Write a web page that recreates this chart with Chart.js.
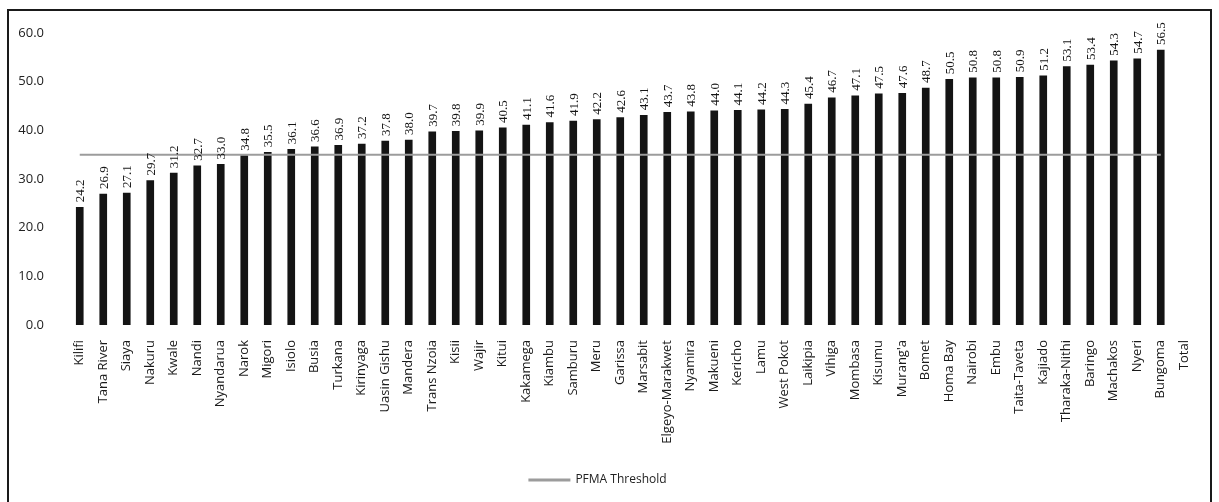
<!DOCTYPE html>
<html>
<head>
<meta charset="utf-8">
<script src="https://cdn.jsdelivr.net/npm/chart.js@4.4.1/dist/chart.umd.min.js"></script>
<style>
    html, body { margin: 0; padding: 0; background: #fff; }
    #moldura { position: absolute; left: 7px; top: 9px; width: 1205px; height: 520px; border: 2px solid #1a1a1a; box-sizing: border-box; }
    #area { position: absolute; left: 0; top: 0; width: 1219px; height: 502px; }
</style>
</head>
<body>
<div id="moldura"></div>
<div id="area"><canvas id="graficoPfma"></canvas></div>
<script>
const condados = ['Kilifi', 'Tana River', 'Siaya', 'Nakuru', 'Kwale', 'Nandi', 'Nyandarua', 'Narok', 'Migori', 'Isiolo',
    'Busia', 'Turkana', 'Kirinyaga', 'Uasin Gishu', 'Mandera', 'Trans Nzoia', 'Kisii', 'Wajir', 'Kitui', 'Kakamega',
    'Kiambu', 'Samburu', 'Meru', 'Garissa', 'Marsabit', 'Elgeyo-Marakwet', 'Nyamira', 'Makueni', 'Kericho', 'Lamu',
    'West Pokot', 'Laikipia', 'Vihiga', 'Mombasa', 'Kisumu', "Murang'a", 'Bomet', 'Homa Bay', 'Nairobi', 'Embu',
    'Taita-Taveta', 'Kajiado', 'Tharaka-Nithi', 'Baringo', 'Machakos', 'Nyeri', 'Bungoma', 'Total'];

const pontuacao = [24.2, 26.9, 27.1, 29.7, 31.2, 32.7, 33.0, 34.8, 35.5, 36.1,
    36.6, 36.9, 37.2, 37.8, 38.0, 39.7, 39.8, 39.9, 40.5, 41.1,
    41.6, 41.9, 42.2, 42.6, 43.1, 43.7, 43.8, 44.0, 44.1, 44.2,
    44.3, 45.4, 46.7, 47.1, 47.5, 47.6, 48.7, 50.5, 50.8, 50.8,
    50.9, 51.2, 53.1, 53.4, 54.3, 54.7, 56.5, null];

// linha do limite PFMA, de Kilifi a Bungoma
const limite = [{ x: 'Kilifi', y: 35 }, { x: 'Bungoma', y: 35 }];

const eixoY = { min: 0, max: 60, passo: 10 };

// rotulos verticais em cima das barras (sem plugin externo)
const rotulosBarras = {
    id: 'rotulosBarras',
    afterDatasetsDraw(chart) {
        const ctx = chart.ctx;
        const meta = chart.getDatasetMeta(0);
        ctx.save();
        ctx.font = '13px "Liberation Serif", serif';
        ctx.fillStyle = '#151515';
        ctx.textAlign = 'left';
        ctx.textBaseline = 'middle';
        meta.data.forEach((barra, i) => {
            const v = pontuacao[i];
            if (v === null) return;
            ctx.save();
            ctx.translate(barra.x + 1, barra.y - 5);
            ctx.rotate(-Math.PI / 2);
            ctx.fillText(v.toFixed(1), 0, 0);
            ctx.restore();
        });
        ctx.restore();
    }
};

const ctx = document.getElementById('graficoPfma').getContext('2d');

new Chart(ctx, {
    data: {
        labels: condados,
        datasets: [{
            type: 'bar',
            label: 'Score',
            data: pontuacao,
            backgroundColor: '#141414',
            barThickness: 7,
            order: 2
        }, {
            type: 'line',
            label: 'PFMA Threshold',
            data: limite,
            borderColor: '#9c9c9c',
            backgroundColor: '#9c9c9c',
            borderWidth: 2,
            pointRadius: 0,
            order: 1
        }]
    },
    options: {
        responsive: true,
        maintainAspectRatio: false,
        animation: false,
        layout: { padding: { top: 33, right: 23, bottom: 6, left: 0 } },
        plugins: {
            legend: {
                position: 'bottom',
                labels: {
                    filter: item => item.text === 'PFMA Threshold',
                    boxWidth: 40,
                    boxHeight: 1,
                    color: '#222',
                    font: { family: '"Open Sans", sans-serif', size: 12 },
                    padding: 8
                }
            },
            tooltip: { enabled: false }
        },
        scales: {
            x: {
                grid: { display: false },
                border: { display: false },
                afterFit: s => { s.height = 141; },
                ticks: {
                    autoSkip: false,
                    minRotation: 90,
                    maxRotation: 90,
                    padding: 7,
                    color: '#1a1a1a',
                    font: { family: '"Open Sans", sans-serif', size: 13 }
                }
            },
            y: {
                min: eixoY.min,
                max: eixoY.max,
                grid: { display: false },
                border: { display: false },
                afterFit: s => { s.width = 68; },
                ticks: {
                    stepSize: eixoY.passo,
                    padding: 16,
                    color: '#222',
                    font: { family: '"Open Sans", sans-serif', size: 13 },
                    callback: v => v.toFixed(1)
                }
            }
        }
    },
    plugins: [rotulosBarras]
});
</script>
</body>
</html>
